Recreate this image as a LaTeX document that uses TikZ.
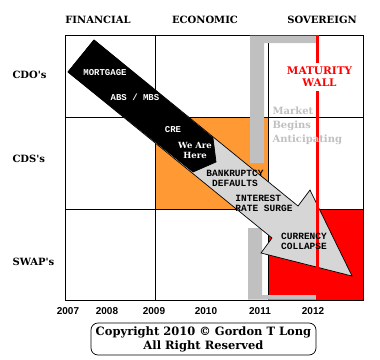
\documentclass[tikz,border=0pt]{standalone}
\usepackage{fontspec}
\setmainfont{DejaVu Serif}
\setsansfont{Liberation Sans}
\setmonofont{Liberation Mono}
\usetikzlibrary{positioning}
\definecolor{wallred}{RGB}{255,0,0}
\definecolor{crisisorange}{RGB}{255,153,51}
\definecolor{bargrey}{RGB}{192,192,192}
\definecolor{stipple}{RGB}{214,214,214}
\tikzset{
  header/.style={font=\fontsize{10}{12}\selectfont\bfseries},
  rowlab/.style={anchor=west,font=\fontsize{10}{12}\selectfont\bfseries},
  yearlab/.style={font=\fontsize{10}{12}\selectfont\sffamily\bfseries},
  gridline/.style={draw=black,line width=.8pt},
  bracket/.style={fill=bargrey,draw=none},
  wall/.style={draw=wallred,line width=3pt},
  darkstage/.style={text=white,inner sep=1pt,align=center,
                    font=\fontsize{9}{10}\selectfont\ttfamily\bfseries},
  lightstage/.style={text=black,inner sep=1pt,
                     font=\fontsize{9.5}{10}\selectfont\ttfamily\bfseries},
  note/.style={anchor=west,align=left,text=bargrey,
               font=\fontsize{10}{14}\selectfont\bfseries},
}
\begin{document}
\begin{tikzpicture}[x=1pt,y=-1pt]
  \useasboundingbox (0,0) rectangle (380,359);
  % coloured cells
  \fill[crisisorange] (155,117) rectangle (268,209);
  \fill[wallred] (268,209) rectangle (363,300);
  % grid
  \draw[gridline] (65,35) rectangle (363,300);
  \draw[gridline] (155,35) -- (155,300) (268,35) -- (268,300);
  \draw[gridline] (65,117) -- (363,117) (65,209) -- (363,209);
  % market brackets
  \fill[bracket] (250,35.5) -- (317,35.5) -- (317,43) -- (264,43) -- (264,163) -- (250,163) -- cycle;
  \fill[bracket] (248,228) -- (262,228) -- (262,295) -- (317,295) -- (317,299.5) -- (248,299.5) -- cycle;
  % crisis arrow
  \filldraw[fill=stipple,draw=black,line width=.7pt]
    (94,40) -- (298,206) -- (310,190) -- (352,276) -- (261,253) -- (272,238) -- (68,72) -- cycle;
  \filldraw[fill=black,draw=black,line width=.7pt]
    (94,40) -- (213,138) -- (216,162) -- (193,172) -- (68,72) -- cycle;
  \draw[wall] (317.5,35) -- (317.5,300);
  % labels
  \node[header] (fin) at (98,20) {FINANCIAL};
  \node[header] (eco) at (205,20) {ECONOMIC};
  \node[header] (sov) at (322,20) {SOVEREIGN};
  \node[rowlab] (cdo) at (9,75) {CDO\textquotesingle s};
  \node[rowlab] (cds) at (9,159) {CDS\textquotesingle s};
  \node[rowlab] (swap) at (9,262) {SWAP\textquotesingle s};
  \foreach \x/\yr in {68/2007,107/2008,154/2009,206/2010,260/2011,313/2012}{
    \node[yearlab] (y\yr) at (\x,311) {\yr};}
  \node[darkstage] (mort) at (105,73) {MORTGAGE};
  \node[darkstage] (abs) at (135,97) {ABS / MBS};
  \node[darkstage] (cre) at (173,130) {CRE};
  \node[darkstage,font=\fontsize{8.5}{10}\selectfont\bfseries] (here) at (195,150) {We Are\\Here};
  \node[lightstage,align=center] (bank) at (235,178) {BANKRUPTCY\\DEFAULTS};
  \node[lightstage,align=left] (rate) at (264,203) {INTEREST\\RATE SURGE};
  \node[lightstage,align=left,anchor=west] (curr) at (280,241) {CURRENCY\\COLLAPSE};
  \node[text=wallred,fill=white,align=center,inner xsep=1pt,inner ysep=4pt,
        font=\fontsize{10.5}{12}\selectfont\bfseries] (matur) at (319.5,77) {MATURITY\\WALL};
  \node[note] (market) at (269,126) {Market\\Begins\\Anticipating};
  \node[draw=black,line width=.7pt,rounded corners=7pt,minimum width=225pt,minimum height=32pt,
        align=center,inner sep=0pt,font=\fontsize{11.5}{14}\selectfont\bfseries] (copy) at (203.5,339)
    {Copyright 2010 © Gordon T Long\\All Right Reserved};
\end{tikzpicture}
\end{document}
